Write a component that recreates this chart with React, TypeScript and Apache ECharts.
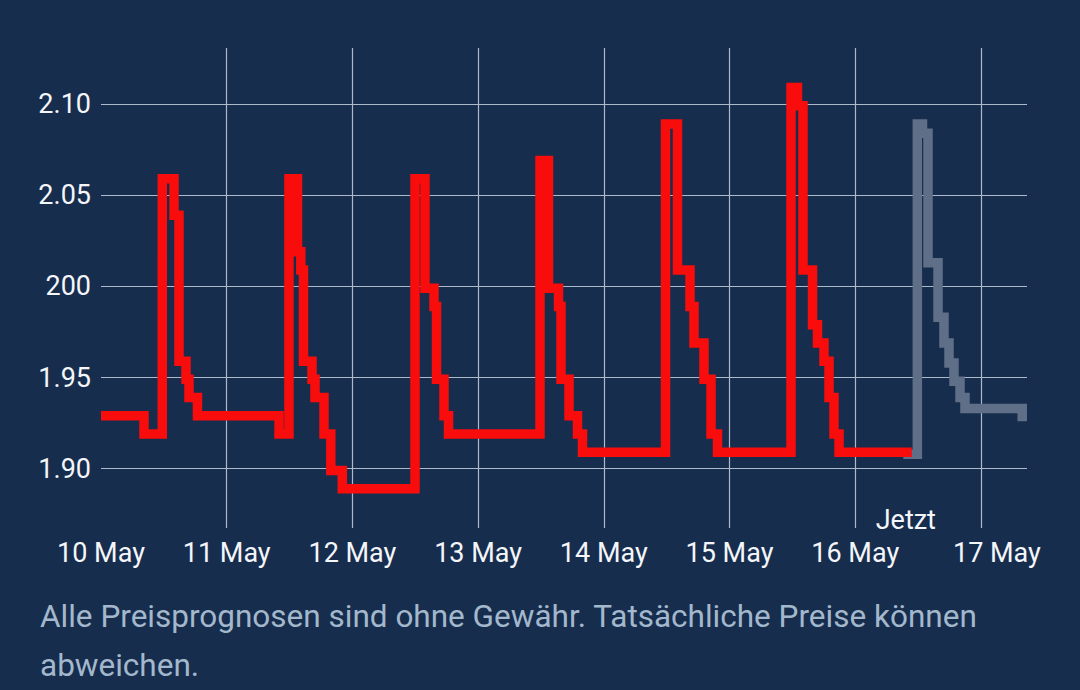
import React, { useEffect, useRef } from "react";
import * as echarts from "echarts";

// hours since 10 May 00:00 and price (step changes)
const pastHours = [
  0, 8.21, 11.7, 13.94, 14.89, 16.23, 16.8, 18.42,
  33.99, 35.89, 37.52, 38.15, 38.66, 40.29, 40.86, 42.58, 43.88, 46.07,
  59.95, 61.86, 63.58, 64.06, 65.49, 66.35,
  83.82, 85.44, 87.35, 87.83, 89.36, 90.98, 91.93,
  107.78, 110.07, 112.46, 113.22, 115.13, 116.47, 117.71,
  131.74, 132.98, 134.03, 135.85, 136.8, 138.04, 139.0, 139.95, 140.91,
  154.79,
];
const pastPrices = [
  1.929, 1.919, 2.059, 2.039, 1.959, 1.949, 1.939, 1.929,
  1.919, 2.059, 2.019, 2.009, 1.959, 1.949, 1.939, 1.919, 1.899, 1.889,
  2.059, 1.999, 1.989, 1.949, 1.929, 1.919,
  2.069, 1.999, 1.989, 1.949, 1.929, 1.919, 1.909,
  2.089, 2.009, 1.989, 1.969, 1.949, 1.919, 1.909,
  2.109, 2.099, 2.009, 1.979, 1.969, 1.959, 1.939, 1.919, 1.909,
  1.909,
];
const forecastHours = [153.18, 155.86, 156.85, 157.9, 159.81, 160.95, 161.91, 162.86, 164.01, 164.96, 175.89];
const forecastPrices = [1.908, 2.089, 2.084, 2.013, 1.983, 1.969, 1.958, 1.948, 1.939, 1.933, 1.926];

const dayLabels = ["10 May", "11 May", "12 May", "13 May", "14 May", "15 May", "16 May", "17 May"];
const yTickValues = [1.9, 1.95, 2.0, 2.05, 2.1];
const yTickLabels = ["1.90", "1.95", "200", "2.05", "2.10"];
const nowHour = 153.66;
const nowLabel = "Jetzt";
const footerLines = [
  "Alle Preisprognosen sind ohne Gewähr. Tatsächliche Preise können",
  "abweichen.",
];

const BG = "#172d4e";
const FONT = "Roboto";
const LABEL = "#f4f6f9";
const FS = 27;

export default function App() {
  const ref = useRef<HTMLDivElement>(null);
  useEffect(() => {
    if (!ref.current) return;
    const chart = echarts.init(ref.current, null, { renderer: "svg" });
    const past = pastHours.map((h, i) => [h, pastPrices[i]]);
    const fc = forecastHours.map((h, i) => [h, forecastPrices[i]]);
    chart.setOption({
      animation: false,
      backgroundColor: BG,
      grid: { left: 101, right: 53, top: 48, bottom: 162 },
      xAxis: {
        type: "value",
        min: 0,
        max: 176.8,
        interval: 24,
        axisLine: { show: false },
        axisTick: { show: false },
        splitLine: {
          show: true,
          showMinLine: false,
          showMaxLine: false,
          lineStyle: { color: "#aeb9ca", width: 1.2 },
        },
        axisLabel: {
          color: LABEL,
          fontFamily: FONT,
          fontSize: FS,
          margin: 11,
          showMaxLabel: false,
          formatter: (v: number) => {
            const idx = Math.round(v / 24);
            const t = dayLabels[idx] ?? "";
            return idx === dayLabels.length - 1 ? `{last|${t}}` : t;
          },
          rich: {
            last: { color: LABEL, fontFamily: FONT, fontSize: FS, padding: [0, 0, 0, 32] },
          },
        },
      },
      yAxis: {
        type: "value",
        min: 1.8675,
        max: 2.1307,
        axisLine: { show: false },
        axisTick: { show: false },
        splitLine: {
          show: true,
          showMinLine: false,
          showMaxLine: false,
          lineStyle: { color: "#aeb9ca", width: 1.2 },
        },
        axisLabel: {
          color: LABEL,
          fontFamily: FONT,
          fontSize: FS,
          margin: 10,
          showMinLabel: false,
          showMaxLabel: false,
          formatter: (v: number) => {
            const i = yTickValues.findIndex((t) => Math.abs(t - v) < 1e-6);
            return i >= 0 ? yTickLabels[i] : "";
          },
        },
      },
      series: [
        {
          type: "line",
          step: "end",
          data: fc,
          showSymbol: false,
          symbol: "none",
          z: 2,
          lineStyle: { color: "#5f6f88", width: 9.5, cap: "butt", join: "miter" },
          markPoint: {
            symbol: "rect",
            symbolSize: 1,
            itemStyle: { color: "rgba(0,0,0,0)" },
            label: {
              show: true,
              position: "inside",
              formatter: nowLabel,
              color: LABEL,
              fontFamily: FONT,
              fontSize: FS,
            },
            data: [{ coord: [nowHour, 1.872] }],
          },
        },
        {
          type: "line",
          step: "end",
          data: past,
          showSymbol: false,
          symbol: "none",
          z: 3,
          lineStyle: { color: "#f80c0c", width: 9.5, cap: "butt", join: "miter" },
        },
      ],
      graphic: [
        {
          type: "text",
          left: 40,
          top: 592,
          style: {
            text: footerLines.join("\n"),
            fill: "#a3b8cc",
            font: `31.5px ${FONT}`,
            lineHeight: 49,
          },
        },
      ],
    });
    return () => chart.dispose();
  }, []);
  return (
    <div style={{ position: "fixed", left: 0, top: 0, width: 1080, height: 690, background: BG }}>
      <div ref={ref} style={{ width: 1080, height: 690 }} />
    </div>
  );
}
